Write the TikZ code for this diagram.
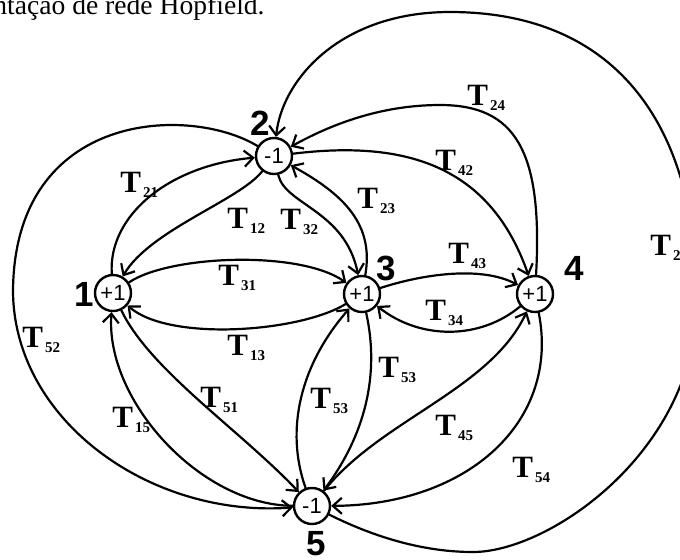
\documentclass[tikz,border=0pt]{standalone}
\usepackage{fontspec}
\setmainfont{Liberation Serif}
\newfontfamily\arialfont{Liberation Sans}
\usetikzlibrary{arrows.meta}
\newcommand{\Tw}[1]{\textbf{T}\kern1pt\raisebox{-2.5pt}{\fontsize{7.5}{8}\selectfont\bfseries #1}}
\begin{document}
\begin{tikzpicture}[x=0.5pt, y=-0.5pt, line join=round, line cap=round,
	>={Straight Barb[length=4.5pt,width=8pt]},
	neuron/.style={circle, draw, line width=1.2pt, minimum size=18pt, inner sep=0pt, font=\arialfont\fontsize{11}{12}\selectfont},
	num/.style={inner sep=0pt, font=\arialfont\bfseries\fontsize{17.5}{18}\selectfont},
	wt/.style={anchor=base west, inner sep=0pt, font=\fontsize{15.5}{16}\selectfont},
	syn/.style={->, line width=1.1pt}]
	\useasboundingbox (0,0) rectangle (680,559);
	\clip (0,0) rectangle (680,559);
	% Legenda cortada
	\node[anchor=base east, inner sep=0pt, font=\fontsize{13.8}{15}\selectfont] (titulo) at (265,14) {Representação de rede Hopfield.};
	% Neurônios
	\node[neuron] (n1) at (113,293) {+1};
	\node[neuron] (n2) at (274,156) {-1};
	\node[neuron] (n3) at (362,294) {+1};
	\node[neuron] (n4) at (535,294) {+1};
	\node[neuron] (n5) at (312,506) {-1};
	\node[num] (k1) at (84,294) {1};
	\node[num] (k2) at (260,123) {2};
	\node[num] (k3) at (386,268) {3};
	\node[num] (k4) at (574,268) {4};
	\node[num] (k5) at (316,544) {5};
	% Conexões
	\draw[syn] (n1) .. controls (108,215) and (170,165) .. (n2);
	\draw[syn] (n2) .. controls (240,200) and (150,230) .. (n1);
	\draw[syn] (n2) .. controls (190,105) and (15,110) .. (13,290) .. controls (13,420) and (150,518) .. (n5);
	\draw[syn] (n5) .. controls (370,535) and (420,552) .. (473,552) .. controls (550,552) and (697,450) .. (697,300)
		.. controls (697,130) and (620,12) .. (450,12) .. controls (340,12) and (282,80) .. (n2);
	\draw[syn] (n1) .. controls (170,255) and (300,250) .. (n3);
	\draw[syn] (n3) .. controls (300,332) and (170,342) .. (n1);
	\draw[syn] (n2) .. controls (285,205) and (345,210) .. (n3);
	\draw[syn] (n3) .. controls (374,225) and (345,195) .. (n2);
	\draw[syn] (n2) .. controls (405,140) and (490,165) .. (n4);
	\draw[syn] (n4) .. controls (543,150) and (515,105) .. (440,105) .. controls (380,105) and (330,125) .. (n2);
	\draw[syn] (n3) .. controls (420,275) and (480,265) .. (n4);
	\draw[syn] (n4) .. controls (480,340) and (420,340) .. (n3);
	\draw[syn] (n3) .. controls (380,375) and (365,435) .. (n5);
	\draw[syn] (n5) .. controls (285,430) and (300,365) .. (n3);
	\draw[syn] (n5) .. controls (380,420) and (490,390) .. (n4);
	\draw[syn] (n4) .. controls (560,420) and (470,505) .. (n5);
	\draw[syn] (n1) .. controls (150,370) and (240,430) .. (n5);
	\draw[syn] (n5) .. controls (200,505) and (105,400) .. (n1);
	% Pesos
	\node[wt] (w21) at (120,192) {\Tw{21}};
	\node[wt] (w12) at (227,228) {\Tw{12}};
	\node[wt] (w32) at (280,229) {\Tw{32}};
	\node[wt] (w23) at (357,208) {\Tw{23}};
	\node[wt] (w31) at (218,285) {\Tw{31}};
	\node[wt] (w13) at (227,355) {\Tw{13}};
	\node[wt] (w24) at (467,105) {\Tw{24}};
	\node[wt] (w42) at (435,170) {\Tw{42}};
	\node[wt] (w43) at (448,263) {\Tw{43}};
	\node[wt] (w34) at (425,320) {\Tw{34}};
	\node[wt] (w25) at (650,255) {\Tw{25}};
	\node[wt] (w52) at (22,347) {\Tw{52}};
	\node[wt] (w53a) at (378,377) {\Tw{53}};
	\node[wt] (w53b) at (310,408) {\Tw{53}};
	\node[wt] (w45) at (435,435) {\Tw{45}};
	\node[wt] (w54) at (512,477) {\Tw{54}};
	\node[wt] (w51) at (200,407) {\Tw{51}};
	\node[wt] (w15) at (112,427) {\Tw{15}};
\end{tikzpicture}
\end{document}
